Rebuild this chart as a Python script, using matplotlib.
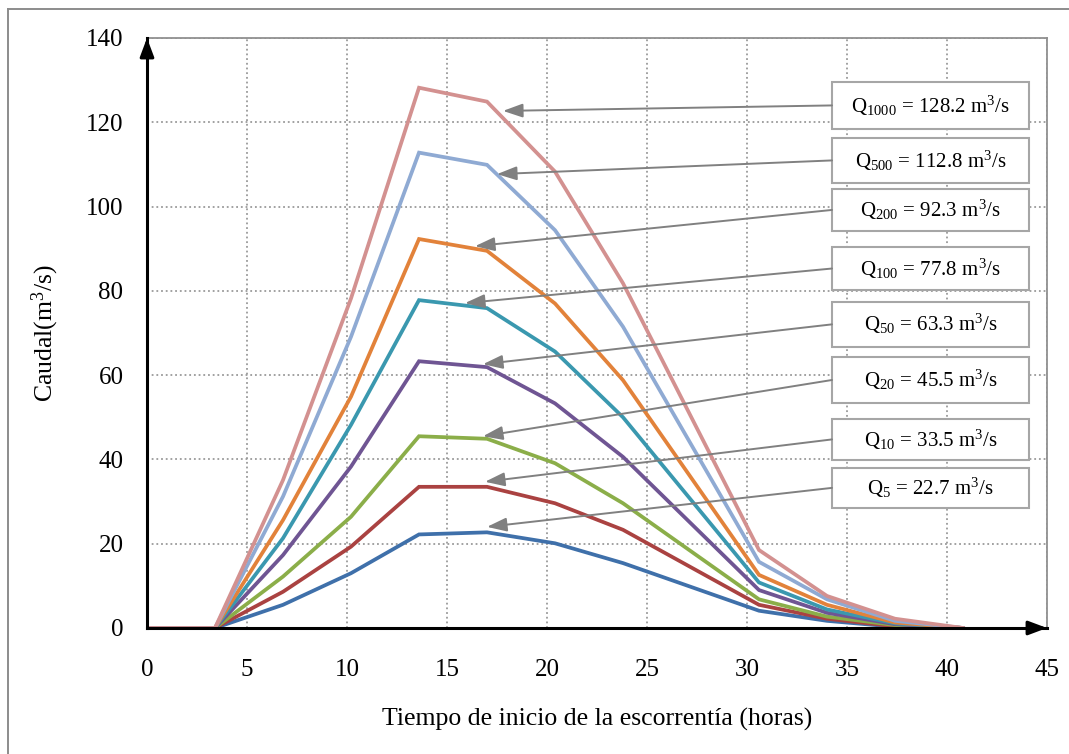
import matplotlib
matplotlib.use("Agg")
import matplotlib.pyplot as plt
from matplotlib.patches import Rectangle
from matplotlib.lines import Line2D

plt.rcParams['font.family'] = ['Liberation Serif', 'DejaVu Serif']
plt.rcParams['mathtext.fontset'] = 'custom'
plt.rcParams['mathtext.rm'] = 'Liberation Serif'
plt.rcParams['mathtext.it'] = 'Liberation Serif:italic'

# Hydrograph ordinates (hours, m3/s) for each return period
tiempo = [0, 3.4, 6.8, 10.2, 13.6, 17.0, 20.4, 23.8, 30.6, 34.0, 37.4, 40.8]

q5    = [0, 0, 5.5, 13.0, 22.2, 22.7, 20.1, 15.4, 4.1, 1.7, 0.3, 0]
q10   = [0, 0, 8.6, 19.3, 33.5, 33.5, 29.6, 23.3, 5.5, 2.2, 0.4, 0]
q20   = [0, 0, 12.2, 26.4, 45.5, 44.9, 39.1, 29.6, 6.8, 2.7, 0.7, 0]
q50   = [0, 0, 17.3, 38.3, 63.3, 61.9, 53.3, 40.6, 9.0, 3.6, 0.9, 0]
q100  = [0, 0, 21.3, 48.2, 77.8, 75.9, 65.6, 50.0, 10.8, 4.4, 1.1, 0]
q200  = [0, 0, 25.6, 54.9, 92.3, 89.5, 77.0, 58.8, 12.6, 5.5, 1.3, 0]
q500  = [0, 0, 31.2, 69.1, 112.8, 109.9, 94.4, 71.5, 15.7, 6.8, 1.7, 0]
q1000 = [0, 0, 35.1, 78.2, 128.2, 124.9, 108.3, 81.8, 18.5, 7.6, 2.2, 0]

periodos = ["5", "10", "20", "50", "100", "200", "500", "1000"]
series = [q5, q10, q20, q50, q100, q200, q500, q1000]
colores = ["#3F70AA", "#AA4241", "#8BAE49", "#6F5593", "#3A98AF",
           "#E2823A", "#8FAAD3", "#D39190"]

x_ticks = [0, 5, 10, 15, 20, 25, 30, 35, 40, 45]
y_ticks = [0, 20, 40, 60, 80, 100, 120, 140]

# Label boxes (bottom, top in m3/s), arrow tips (hours, m3/s); same order as series
cajas = [(28.5, 38.0), (39.9, 49.6), (53.4, 64.3), (66.7, 77.4),
         (80.2, 90.4), (94.2, 104.2), (105.6, 116.3), (118.4, 129.6)]
puntas = [(17.0, 24.0), (16.9, 34.7), (16.8, 45.5), (16.8, 62.6),
          (15.9, 77.1), (16.4, 90.6), (17.5, 107.7), (17.8, 122.7)]
caja_x0, caja_x1 = 34.25, 44.1

W, H, DPI = 1069, 754, 100
fig = plt.figure(figsize=(W / DPI, H / DPI), dpi=DPI)
ax = fig.add_axes([147 / W, 1 - 628 / H, 900 / W, 590 / H])

for s, c in zip(series, colores):
    ax.plot(tiempo, s, color=c, lw=2.7, solid_joinstyle='miter', zorder=3)

ax.set_xlim(0, 45)
ax.set_ylim(0, 140)
ax.set_xticks(x_ticks)
ax.set_yticks(y_ticks)
ax.tick_params(axis='both', length=0, labelsize=18)
ax.tick_params(axis='y', pad=17)
ax.tick_params(axis='x', pad=22)
ax.grid(True, color='#9A9A9A', linestyle=(0, (1, 1.6)), lw=1.3, zorder=1)

for side in ('left', 'bottom'):
    ax.spines[side].set_color('black')
    ax.spines[side].set_linewidth(2.2)
    ax.spines[side].set_zorder(4)
for side in ('top', 'right'):
    ax.spines[side].set_color('#909090')
    ax.spines[side].set_linewidth(1.3)

# Arrowheads at the ends of both axes
head = '-|>,head_length=0.8,head_width=0.3'
ax.annotate('', xy=(0, 1.0), xytext=(0, 0.97), xycoords='axes fraction',
            arrowprops=dict(arrowstyle=head, color='black', lw=2.2,
                            mutation_scale=14, shrinkA=0, shrinkB=0), zorder=5)
ax.annotate('', xy=(1.0, 0), xytext=(0.98, 0), xycoords='axes fraction',
            arrowprops=dict(arrowstyle=head, color='black', lw=2.2,
                            mutation_scale=14, shrinkA=0, shrinkB=0), zorder=5)

ax.set_xlabel('Tiempo de inicio de la escorrentía (horas)', fontsize=18.5, labelpad=20)
ax.set_ylabel('Caudal(m$^3$/s)', fontsize=18.5, labelpad=18)

# Peak-flow boxes with pointer arrows
for per, s, (y0, y1), tip in zip(periodos, series, cajas, puntas):
    ax.add_patch(Rectangle((caja_x0, y0), caja_x1 - caja_x0, y1 - y0,
                           facecolor='white', edgecolor='#A6A6A6', lw=1.5, zorder=6))
    yc = (y0 + y1) / 2
    ax.text((caja_x0 + caja_x1) / 2, yc,
            r'Q$_{\mathrm{%s}}$ = %.1f m$^3$/s' % (per, max(s)),
            ha='center', va='center', fontsize=15, zorder=7)
    ax.annotate('', xy=tip, xytext=(caja_x0, yc),
                arrowprops=dict(arrowstyle='-|>,head_length=0.8,head_width=0.28',
                                color='#808080', lw=1.4, mutation_scale=15,
                                shrinkA=0, shrinkB=0), zorder=6)

# Chart-area border
fig.add_artist(Line2D([8 / W, 8 / W], [0, 1 - 9 / H], transform=fig.transFigure,
                      color='#8C8C8C', lw=1.4))
fig.add_artist(Line2D([8 / W, 1], [1 - 9 / H, 1 - 9 / H], transform=fig.transFigure,
                      color='#8C8C8C', lw=1.4))

fig.savefig('out.png', dpi=DPI)
